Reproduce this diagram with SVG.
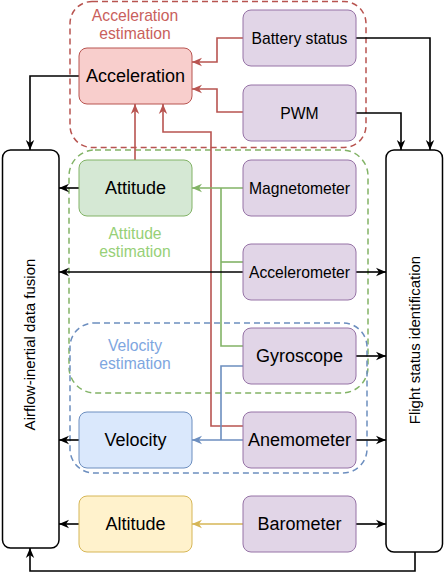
<svg xmlns="http://www.w3.org/2000/svg" width="445" height="583" viewBox="0 0 445 583">
<defs>
<style>
text{font-family:"Liberation Sans",Arial,sans-serif;text-anchor:middle;fill:#000}
.n{stroke-width:1}
.purple{fill:#e1d5e7;stroke:#9673a6}
.big{font-size:18px}
.med{font-size:15.7px}
.grp{fill:none;stroke-width:1.5;stroke-dasharray:6 4}
.side{fill:#fff;stroke:#000;stroke-width:1.5}
.c{fill:none;stroke-width:1.6}
.k{stroke:#000}
.r{stroke:#b85450}
.g{stroke:#82b366}
.b{stroke:#6c8ebf}
.y{stroke:#d6b656}
</style>
<marker id="ak" viewBox="0 0 10 10" markerWidth="10" markerHeight="10" refX="10" refY="5" orient="auto" markerUnits="userSpaceOnUse"><path d="M0,0.8 L10,5 L0,9.2 L3,5 z" fill="#000"/></marker>
<marker id="ar" viewBox="0 0 10 10" markerWidth="10" markerHeight="10" refX="10" refY="5" orient="auto" markerUnits="userSpaceOnUse"><path d="M0,0.8 L10,5 L0,9.2 L3,5 z" fill="#b85450"/></marker>
<marker id="ag" viewBox="0 0 10 10" markerWidth="10" markerHeight="10" refX="10" refY="5" orient="auto" markerUnits="userSpaceOnUse"><path d="M0,0.8 L10,5 L0,9.2 L3,5 z" fill="#82b366"/></marker>
<marker id="ab" viewBox="0 0 10 10" markerWidth="10" markerHeight="10" refX="10" refY="5" orient="auto" markerUnits="userSpaceOnUse"><path d="M0,0.8 L10,5 L0,9.2 L3,5 z" fill="#6c8ebf"/></marker>
<marker id="ay" viewBox="0 0 10 10" markerWidth="10" markerHeight="10" refX="10" refY="5" orient="auto" markerUnits="userSpaceOnUse"><path d="M0,0.8 L10,5 L0,9.2 L3,5 z" fill="#d6b656"/></marker>
</defs>
<rect width="445" height="583" fill="#fff"/>

<g id="group-acceleration-estimation">
<rect class="grp" x="70" y="1.5" width="296" height="146" rx="22" stroke="#b85450"/>
<text class="med" x="135" y="20.5" style="fill:#c9605c">Acceleration</text>
<text class="med" x="135" y="38.5" style="fill:#c9605c">estimation</text>
</g>
<g id="group-attitude-estimation">
<rect class="grp" x="69" y="150" width="299" height="243" rx="26" stroke="#82b366"/>
<text class="med" x="135" y="238.5" style="fill:#97d077">Attitude</text>
<text class="med" x="135" y="256.5" style="fill:#97d077">estimation</text>
</g>
<g id="group-velocity-estimation">
<rect class="grp" x="70" y="323" width="297" height="150" rx="24" stroke="#6c8ebf"/>
<text class="med" x="135" y="351" style="fill:#7ea6e0">Velocity</text>
<text class="med" x="135" y="369" style="fill:#7ea6e0">estimation</text>
</g>

<g id="connectors">
<path class="c k" d="M79,76 H30 V150" marker-end="url(#ak)"/>
<path class="c k" d="M356,38 H430 V150" marker-end="url(#ak)"/>
<path class="c k" d="M356,113 H401 V150" marker-end="url(#ak)"/>
<path class="c k" d="M415,552 V571 H30 V548" marker-end="url(#ak)"/>
<path class="c r" d="M243,426 H211 V132 H163 V104" marker-end="url(#ar)"/>
<path class="c r" d="M243,38 H217 V62 H192" marker-end="url(#ar)"/>
<path class="c r" d="M243,112 H217 V89 H192" marker-end="url(#ar)"/>
<path class="c r" d="M135,160 V104" marker-end="url(#ar)"/>
<path class="c g" d="M243,188 H192" marker-end="url(#ag)"/>
<path class="c g" d="M243,346 H221 V188"/>
<path class="c g" d="M243,262 H221"/>
<path class="c b" d="M243,366 H221 V440"/>
<path class="c b" d="M243,440 H192" marker-end="url(#ab)"/>
<path class="c y" d="M243,524 H192" marker-end="url(#ay)"/>
<path class="c k" d="M243,272 H59" marker-end="url(#ak)"/>
<path class="c k" d="M356,272 H386" marker-end="url(#ak)"/>
<path class="c k" d="M356,356 H386" marker-end="url(#ak)"/>
<path class="c k" d="M356,440 H386" marker-end="url(#ak)"/>
<path class="c k" d="M356,524 H386" marker-end="url(#ak)"/>
<path class="c k" d="M79,188 H59" marker-end="url(#ak)"/>
<path class="c k" d="M79,440 H59" marker-end="url(#ak)"/>
<path class="c k" d="M79,524 H59" marker-end="url(#ak)"/>
</g>

<g id="airflow-inertial-data-fusion">
<rect class="side" x="2.5" y="150" width="56.5" height="398" rx="8"/>
<text style="font-size:15px" transform="translate(34.5,344.5) rotate(-90)">Airflow-inertial data fusion</text>
</g>
<g id="flight-status-identification">
<rect class="side" x="386" y="150" width="56.5" height="402" rx="8"/>
<text style="font-size:15px" transform="translate(419.5,340) rotate(-90)">Flight status identification</text>
</g>

<g id="acceleration">
<rect class="n" x="79" y="48" width="113" height="56" rx="8" fill="#f8cecc" stroke="#b85450"/>
<text class="big" x="135.5" y="82.4">Acceleration</text>
</g>
<g id="battery-status">
<rect class="n purple" x="243" y="10" width="113" height="56" rx="8"/>
<text class="med" x="299.5" y="43.6">Battery status</text>
</g>
<g id="pwm">
<rect class="n purple" x="243" y="85" width="113" height="56" rx="8"/>
<text class="med" x="299.5" y="118.6">PWM</text>
</g>
<g id="attitude">
<rect class="n" x="79" y="160" width="113" height="56" rx="8" fill="#d5e8d4" stroke="#82b366"/>
<text class="big" x="135.5" y="194.4">Attitude</text>
</g>
<g id="magnetometer">
<rect class="n purple" x="243" y="160" width="113" height="56" rx="8"/>
<text class="med" x="299.5" y="193.6">Magnetometer</text>
</g>
<g id="accelerometer">
<rect class="n purple" x="243" y="244" width="113" height="56" rx="8"/>
<text class="med" x="299.5" y="277.6">Accelerometer</text>
</g>
<g id="gyroscope">
<rect class="n purple" x="243" y="328" width="113" height="56" rx="8"/>
<text class="big" x="299.5" y="362.4">Gyroscope</text>
</g>
<g id="velocity">
<rect class="n" x="79" y="412" width="113" height="56" rx="8" fill="#dae8fc" stroke="#6c8ebf"/>
<text class="big" x="135.5" y="446.4">Velocity</text>
</g>
<g id="anemometer">
<rect class="n purple" x="243" y="412" width="113" height="56" rx="8"/>
<text class="big" x="299.5" y="446.4">Anemometer</text>
</g>
<g id="altitude">
<rect class="n" x="79" y="496" width="113" height="56" rx="8" fill="#fff2cc" stroke="#d6b656"/>
<text class="big" x="135.5" y="530.4">Altitude</text>
</g>
<g id="barometer">
<rect class="n purple" x="243" y="496" width="113" height="56" rx="8"/>
<text class="big" x="299.5" y="530.4">Barometer</text>
</g>
</svg>
